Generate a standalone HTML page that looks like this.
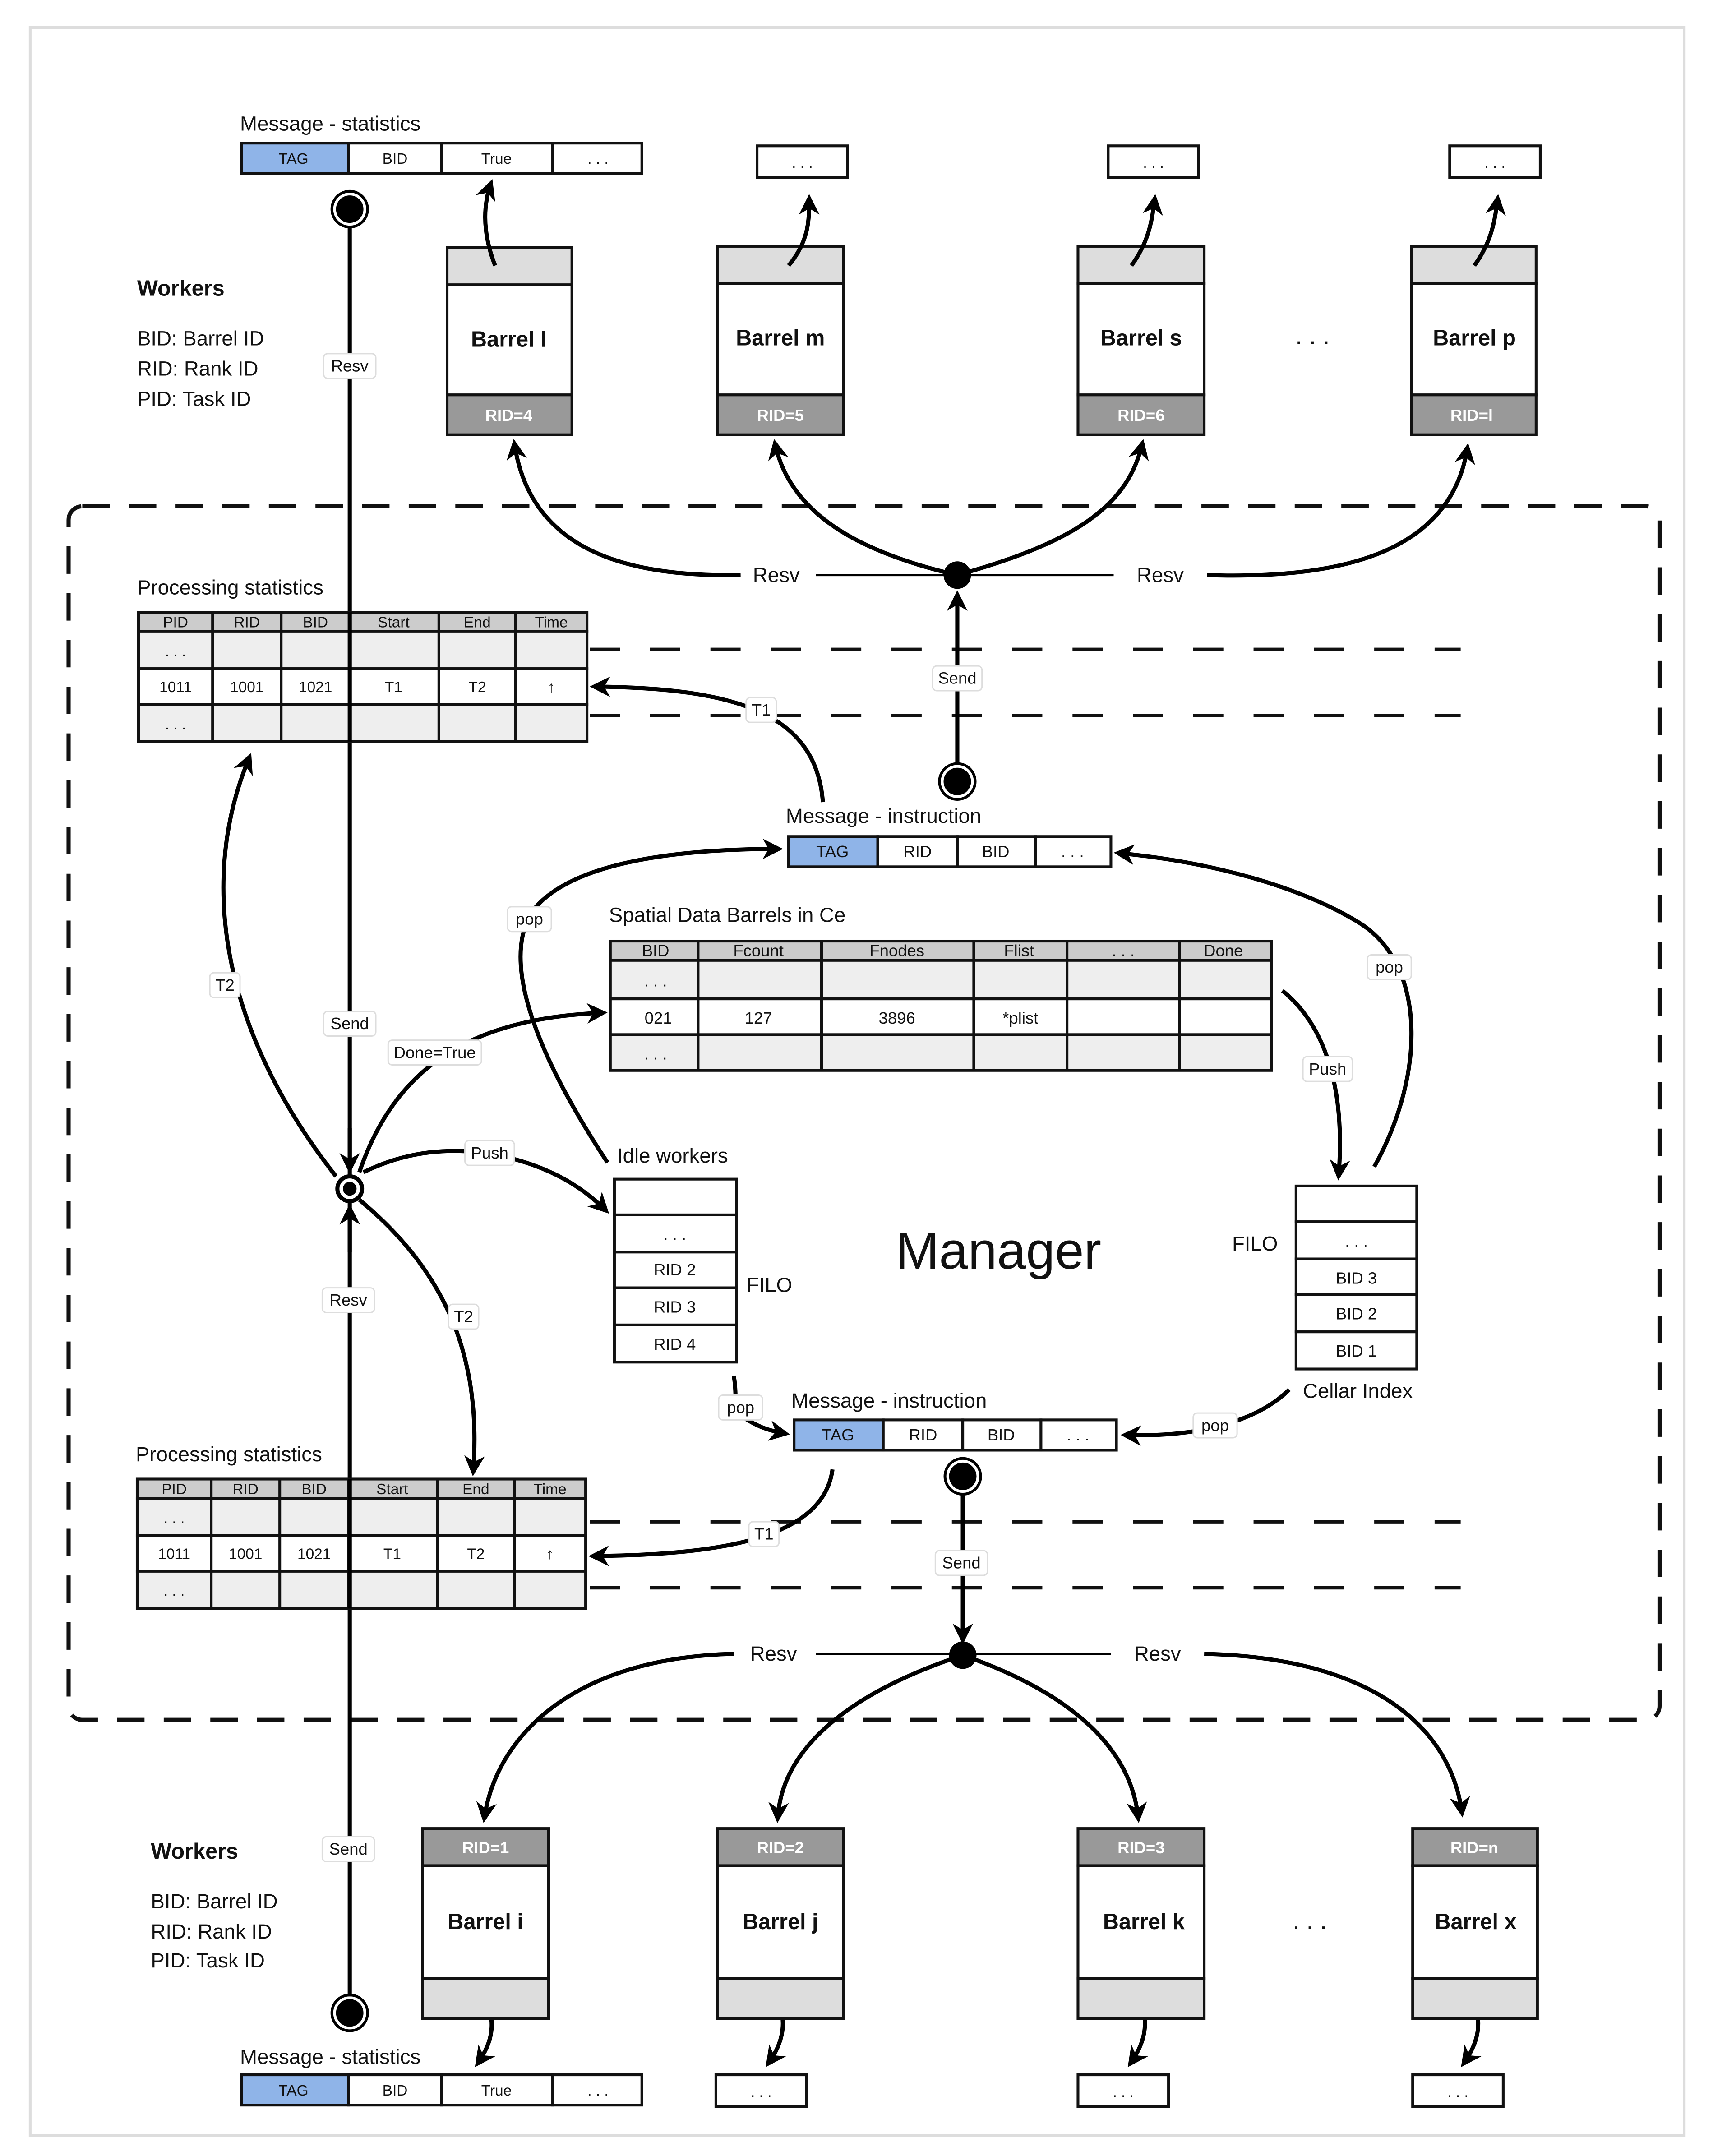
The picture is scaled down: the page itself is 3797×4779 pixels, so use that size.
<!DOCTYPE html>
<html><head><meta charset="utf-8"><style>
html,body{margin:0;padding:0;background:#fff;}
svg{display:block;}
text{font-family:"Liberation Sans",sans-serif;fill:#111;}
</style></head><body>
<svg width="3797" height="4779" viewBox="0 0 1249 1567" preserveAspectRatio="none" xmlns="http://www.w3.org/2000/svg">
<defs>
<marker id="a" viewBox="0 0 10 10" refX="8" refY="5" markerWidth="5" markerHeight="5" orient="auto-start-reverse" markerUnits="strokeWidth"><path d="M0,0 L10,5 L0,10 L3,5 z" fill="#000"/></marker>
</defs>
<rect x="22" y="20" width="1206" height="1532" fill="none" stroke="#ddd" stroke-width="2"/>
<rect x="50" y="368" width="1160" height="882" rx="10" fill="none" stroke="#111" stroke-width="3" stroke-dasharray="20 14"/>

<g stroke="#111" stroke-width="2.5" stroke-dasharray="22 22">
<line x1="430" y1="472" x2="1065" y2="472"/><line x1="430" y1="520" x2="1065" y2="520"/>
<line x1="430" y1="1106" x2="1065" y2="1106"/><line x1="430" y1="1154" x2="1065" y2="1154"/>
</g>

<line x1="255" y1="152" x2="255" y2="1463" stroke="#000" stroke-width="3"/>

<text x="175" y="95" font-size="15">Message - statistics</text>
<g stroke="#111" stroke-width="2">
<rect x="176" y="104" width="78" height="22" fill="#8fb4e8"/>
<rect x="254" y="104" width="68" height="22" fill="#fff"/>
<rect x="322" y="104" width="81" height="22" fill="#fff"/>
<rect x="403" y="104" width="65" height="22" fill="#fff"/>
</g>
<g font-size="11" text-anchor="middle"><text x="214" y="119">TAG</text><text x="288" y="119">BID</text><text x="362" y="119">True</text><text x="436" y="119">. . .</text></g>

<g stroke="#111" stroke-width="2" fill="#fff">
<rect x="552" y="106" width="66" height="23"/><rect x="808" y="106" width="66" height="23"/><rect x="1057" y="106" width="66" height="23"/>
<rect x="522" y="1508" width="66" height="23"/><rect x="786" y="1508" width="66" height="23"/><rect x="1030" y="1508" width="66" height="23"/>
</g>
<g font-size="11" text-anchor="middle"><text x="585" y="122">. . .</text><text x="841" y="122">. . .</text><text x="1090" y="122">. . .</text>
<text x="555" y="1524">. . .</text><text x="819" y="1524">. . .</text><text x="1063" y="1524">. . .</text></g>

<circle cx="255" cy="152" r="11" fill="#000" stroke="#fff" stroke-width="2"/><circle cx="255" cy="152" r="13" fill="none" stroke="#000" stroke-width="2"/>

<text x="100" y="215" font-size="16" font-weight="bold">Workers</text>
<g font-size="15"><text x="100" y="251">BID:  Barrel ID</text><text x="100" y="273">RID:  Rank ID</text><text x="100" y="295">PID:  Task ID</text></g>

<g stroke="#111" stroke-width="2">
<rect x="326" y="180" width="91" height="27" fill="#ddd"/><rect x="326" y="207" width="91" height="80" fill="#fff"/><rect x="326" y="287" width="91" height="29" fill="#999"/>
<rect x="523" y="179" width="92" height="27" fill="#ddd"/><rect x="523" y="206" width="92" height="81" fill="#fff"/><rect x="523" y="287" width="92" height="29" fill="#999"/>
<rect x="786" y="179" width="92" height="27" fill="#ddd"/><rect x="786" y="206" width="92" height="81" fill="#fff"/><rect x="786" y="287" width="92" height="29" fill="#999"/>
<rect x="1029" y="179" width="91" height="27" fill="#ddd"/><rect x="1029" y="206" width="91" height="81" fill="#fff"/><rect x="1029" y="287" width="91" height="29" fill="#999"/>
</g>
<g font-size="16" font-weight="bold" text-anchor="middle"><text x="371" y="252">Barrel l</text><text x="569" y="251">Barrel m</text><text x="832" y="251">Barrel s</text><text x="1075" y="251">Barrel p</text></g>
<g font-size="12" font-weight="bold" text-anchor="middle"><text x="371" y="306" style="fill:#fff">RID=4</text><text x="569" y="306" style="fill:#fff">RID=5</text><text x="832" y="306" style="fill:#fff">RID=6</text><text x="1073" y="306" style="fill:#fff">RID=l</text></g>
<text x="957" y="250" font-size="18" text-anchor="middle">. . .</text>
<g fill="none" stroke="#000" stroke-width="3" marker-end="url(#a)">
<path d="M361,193 C352,170 352,150 358,133"/><path d="M575,193 C590,175 590,160 590,144"/><path d="M825,193 C838,175 840,160 842,144"/><path d="M1075,193 C1088,175 1090,160 1092,144"/>
<path d="M355,1455 C362,1472 358,1486 348,1500"/><path d="M568,1455 C574,1472 570,1486 560,1500"/><path d="M832,1455 C838,1472 834,1486 824,1500"/><path d="M1075,1455 C1081,1472 1077,1486 1067,1500"/>
</g>

<line x1="595" y1="418" x2="812" y2="418" stroke="#000" stroke-width="1.5"/>
<g fill="none" stroke="#000" stroke-width="3" marker-end="url(#a)">
<path d="M540,418 C440,420 385,390 375,322"/><path d="M698,418 C620,400 575,370 565,322"/><path d="M698,418 C780,395 822,370 833,322"/><path d="M880,418 C1000,422 1060,390 1070,325"/>
<path d="M698,568 L698,432"/>
</g>
<circle cx="698" cy="418" r="10" fill="#000"/>
<text x="566" y="423" font-size="15" text-anchor="middle">Resv</text><text x="846" y="423" font-size="15" text-anchor="middle">Resv</text>
<circle cx="698" cy="568" r="11" fill="#000" stroke="#fff" stroke-width="2"/><circle cx="698" cy="568" r="13" fill="none" stroke="#000" stroke-width="2"/>

<g>
<text x="100" y="432" font-size="15">Processing statistics</text>
<g stroke="#111" stroke-width="2">
<rect x="101" y="445" width="327" height="14" fill="#ccc"/>
<rect x="101" y="459" width="327" height="27" fill="#eee"/>
<rect x="101" y="486" width="327" height="26" fill="#fff"/>
<rect x="101" y="512" width="327" height="27" fill="#eee"/>
<path d="M155,445V539M205,445V539M255,445V539M320,445V539M376,445V539"/>
</g>
<g font-size="11" text-anchor="middle"><text x="128" y="456">PID</text><text x="180" y="456">RID</text><text x="230" y="456">BID</text><text x="287" y="456">Start</text><text x="348" y="456">End</text><text x="402" y="456">Time</text>
<text x="128" y="477">. . .</text><text x="128" y="503">1011</text><text x="180" y="503">1001</text><text x="230" y="503">1021</text><text x="287" y="503">T1</text><text x="348" y="503">T2</text><text x="402" y="503">↑</text><text x="128" y="530">. . .</text></g>
</g>
<g transform="translate(-1,630)">
<text x="100" y="432" font-size="15">Processing statistics</text>
<g stroke="#111" stroke-width="2">
<rect x="101" y="445" width="327" height="14" fill="#ccc"/>
<rect x="101" y="459" width="327" height="27" fill="#eee"/>
<rect x="101" y="486" width="327" height="26" fill="#fff"/>
<rect x="101" y="512" width="327" height="27" fill="#eee"/>
<path d="M155,445V539M205,445V539M255,445V539M320,445V539M376,445V539"/>
</g>
<g font-size="11" text-anchor="middle"><text x="128" y="456">PID</text><text x="180" y="456">RID</text><text x="230" y="456">BID</text><text x="287" y="456">Start</text><text x="348" y="456">End</text><text x="402" y="456">Time</text>
<text x="128" y="477">. . .</text><text x="128" y="503">1011</text><text x="180" y="503">1001</text><text x="230" y="503">1021</text><text x="287" y="503">T1</text><text x="348" y="503">T2</text><text x="402" y="503">↑</text><text x="128" y="530">. . .</text></g>
</g>
<line x1="255" y1="445" x2="255" y2="539" stroke="#000" stroke-width="3"/>
<line x1="255" y1="1075" x2="255" y2="1169" stroke="#000" stroke-width="3"/>

<text x="573" y="598" font-size="15">Message - instruction</text>
<g stroke="#111" stroke-width="2">
<rect x="575" y="608" width="65" height="22" fill="#8fb4e8"/><rect x="640" y="608" width="58" height="22" fill="#fff"/><rect x="698" y="608" width="57" height="22" fill="#fff"/><rect x="755" y="608" width="55" height="22" fill="#fff"/>
<rect x="579" y="1032" width="65" height="22" fill="#8fb4e8"/><rect x="644" y="1032" width="58" height="22" fill="#fff"/><rect x="702" y="1032" width="57" height="22" fill="#fff"/><rect x="759" y="1032" width="55" height="22" fill="#fff"/>
</g>
<g font-size="12" text-anchor="middle"><text x="607" y="623">TAG</text><text x="669" y="623">RID</text><text x="726" y="623">BID</text><text x="782" y="623">. . .</text>
<text x="611" y="1047">TAG</text><text x="673" y="1047">RID</text><text x="730" y="1047">BID</text><text x="786" y="1047">. . .</text></g>
<text x="577" y="1023" font-size="15">Message - instruction</text>

<text x="444" y="670" font-size="15">Spatial Data Barrels in Ce</text>
<g stroke="#111" stroke-width="2">
<rect x="445" y="684" width="482" height="14" fill="#ccc"/>
<rect x="445" y="698" width="482" height="28" fill="#eee"/>
<rect x="445" y="726" width="482" height="26" fill="#fff"/>
<rect x="445" y="752" width="482" height="26" fill="#eee"/>
<path d="M509,684V778M599,684V778M710,684V778M778,684V778M860,684V778"/>
</g>
<g font-size="12" text-anchor="middle"><text x="478" y="695">BID</text><text x="553" y="695">Fcount</text><text x="654" y="695">Fnodes</text><text x="743" y="695">Flist</text><text x="819" y="695">. . .</text><text x="892" y="695">Done</text>
<text x="478" y="717">. . .</text><text x="480" y="744">021</text><text x="553" y="744">127</text><text x="654" y="744">3896</text><text x="744" y="744">*plist</text><text x="478" y="770">. . .</text></g>

<text x="450" y="845" font-size="15">Idle workers</text>
<g stroke="#111" stroke-width="2" fill="#fff">
<rect x="448" y="857" width="89" height="26"/><rect x="448" y="883" width="89" height="27"/><rect x="448" y="910" width="89" height="26"/><rect x="448" y="936" width="89" height="27"/><rect x="448" y="963" width="89" height="27"/>
<rect x="945" y="862" width="88" height="26"/><rect x="945" y="888" width="88" height="27"/><rect x="945" y="915" width="88" height="26"/><rect x="945" y="941" width="88" height="27"/><rect x="945" y="968" width="88" height="27"/>
</g>
<g font-size="12" text-anchor="middle"><text x="492" y="901">. . .</text><text x="492" y="927">RID 2</text><text x="492" y="954">RID 3</text><text x="492" y="981">RID 4</text>
<text x="989" y="906">. . .</text><text x="989" y="933">BID 3</text><text x="989" y="959">BID 2</text><text x="989" y="986">BID 1</text></g>
<text x="561" y="939" font-size="15" text-anchor="middle">FILO</text>
<text x="915" y="909" font-size="15" text-anchor="middle">FILO</text>
<text x="990" y="1016" font-size="15" text-anchor="middle">Cellar Index</text>
<text x="728" y="922" font-size="38" text-anchor="middle">Manager</text>

<circle cx="702" cy="1073" r="11" fill="#000" stroke="#fff" stroke-width="2"/><circle cx="702" cy="1073" r="13" fill="none" stroke="#000" stroke-width="2"/>
<line x1="595" y1="1202" x2="810" y2="1202" stroke="#000" stroke-width="1.5"/>
<g fill="none" stroke="#000" stroke-width="3" marker-end="url(#a)">
<path d="M702,1086 L702,1192"/>
<path d="M535,1202 C420,1205 362,1260 353,1322"/><path d="M702,1203 C620,1230 570,1270 567,1322"/><path d="M702,1203 C780,1230 825,1270 830,1322"/><path d="M878,1202 C1000,1205 1058,1255 1066,1318"/>
</g>
<circle cx="702" cy="1203" r="10" fill="#000"/>
<text x="564" y="1207" font-size="15" text-anchor="middle">Resv</text><text x="844" y="1207" font-size="15" text-anchor="middle">Resv</text>

<g stroke="#111" stroke-width="2">
<rect x="308" y="1329" width="92" height="27" fill="#999"/><rect x="308" y="1356" width="92" height="82" fill="#fff"/><rect x="308" y="1438" width="92" height="29" fill="#ddd"/>
<rect x="523" y="1329" width="92" height="27" fill="#999"/><rect x="523" y="1356" width="92" height="82" fill="#fff"/><rect x="523" y="1438" width="92" height="29" fill="#ddd"/>
<rect x="786" y="1329" width="92" height="27" fill="#999"/><rect x="786" y="1356" width="92" height="82" fill="#fff"/><rect x="786" y="1438" width="92" height="29" fill="#ddd"/>
<rect x="1030" y="1329" width="91" height="27" fill="#999"/><rect x="1030" y="1356" width="91" height="82" fill="#fff"/><rect x="1030" y="1438" width="91" height="29" fill="#ddd"/>
</g>
<g font-size="12" font-weight="bold" text-anchor="middle"><text x="354" y="1347" style="fill:#fff">RID=1</text><text x="569" y="1347" style="fill:#fff">RID=2</text><text x="832" y="1347" style="fill:#fff">RID=3</text><text x="1075" y="1347" style="fill:#fff">RID=n</text></g>
<g font-size="16" font-weight="bold" text-anchor="middle"><text x="354" y="1402">Barrel i</text><text x="569" y="1402">Barrel j</text><text x="834" y="1402">Barrel k</text><text x="1076" y="1402">Barrel x</text></g>
<text x="955" y="1402" font-size="18" text-anchor="middle">. . .</text>

<text x="110" y="1351" font-size="16" font-weight="bold">Workers</text>
<g font-size="15"><text x="110" y="1387">BID:  Barrel ID</text><text x="110" y="1409">RID:  Rank ID</text><text x="110" y="1430">PID:  Task ID</text></g>
<circle cx="255" cy="1463" r="11" fill="#000" stroke="#fff" stroke-width="2"/><circle cx="255" cy="1463" r="13" fill="none" stroke="#000" stroke-width="2"/>

<text x="175" y="1500" font-size="15">Message - statistics</text>
<g stroke="#111" stroke-width="2">
<rect x="176" y="1508" width="78" height="22" fill="#8fb4e8"/><rect x="254" y="1508" width="68" height="22" fill="#fff"/><rect x="322" y="1508" width="81" height="22" fill="#fff"/><rect x="403" y="1508" width="65" height="22" fill="#fff"/>
</g>
<g font-size="11" text-anchor="middle"><text x="214" y="1523">TAG</text><text x="288" y="1523">BID</text><text x="362" y="1523">True</text><text x="436" y="1523">. . .</text></g>

<g fill="none" stroke="#000" stroke-width="3" marker-end="url(#a)">
<path d="M255,820 L255,850"/><path d="M255,910 L255,878"/>
<path d="M600,583 C595,520 540,500 433,499"/>
<path d="M607,1068 C600,1120 520,1130 432,1131"/>
<path d="M245,855 C170,760 140,650 182,550"/>
<path d="M262,852 C290,770 350,740 440,736"/>
<path d="M265,852 C300,835 330,835 355,838 C395,845 422,860 442,880"/>
<path d="M262,872 C320,920 352,980 345,1070"/>
<path d="M443,845 C400,780 360,700 390,660 C420,625 500,617 568,617"/>
<path d="M1002,848 C1040,780 1040,700 990,670 C940,640 870,625 815,620"/>
<path d="M935,720 C960,740 982,780 976,855"/>
<path d="M535,1000 C538,1015 533,1025 545,1032 C555,1038 562,1040 573,1042"/>
<path d="M940,1010 C920,1030 880,1045 820,1043"/>
</g>
<circle cx="255" cy="864" r="9" fill="#fff" stroke="#000" stroke-width="3"/><circle cx="255" cy="864" r="5" fill="#000"/>

<g font-size="12" text-anchor="middle">
<g stroke="#ddd" stroke-width="1" fill="#fff">
<rect x="236" y="257" width="38" height="18" rx="3"/>
<rect x="680" y="484" width="36" height="18" rx="3"/>
<rect x="544" y="507" width="22" height="18" rx="3"/>
<rect x="236" y="735" width="38" height="18" rx="3"/>
<rect x="153" y="707" width="22" height="18" rx="3"/>
<rect x="283" y="756" width="68" height="18" rx="3"/>
<rect x="339" y="829" width="36" height="18" rx="3"/>
<rect x="370" y="659" width="32" height="18" rx="3"/>
<rect x="997" y="694" width="32" height="18" rx="3"/>
<rect x="950" y="768" width="36" height="18" rx="3"/>
<rect x="235" y="936" width="38" height="18" rx="3"/>
<rect x="327" y="948" width="22" height="18" rx="3"/>
<rect x="524" y="1014" width="32" height="18" rx="3"/>
<rect x="870" y="1027" width="32" height="18" rx="3"/>
<rect x="682" y="1127" width="38" height="18" rx="3"/>
<rect x="546" y="1106" width="22" height="18" rx="3"/>
<rect x="235" y="1335" width="38" height="18" rx="3"/>
</g>
<text x="255" y="270">Resv</text><text x="698" y="497">Send</text><text x="555" y="520">T1</text><text x="255" y="748">Send</text><text x="164" y="720">T2</text><text x="317" y="769">Done=True</text><text x="357" y="842">Push</text><text x="386" y="672">pop</text><text x="1013" y="707">pop</text><text x="968" y="781">Push</text><text x="254" y="949">Resv</text><text x="338" y="961">T2</text><text x="540" y="1027">pop</text><text x="886" y="1040">pop</text><text x="701" y="1140">Send</text><text x="557" y="1119">T1</text><text x="254" y="1348">Send</text>
</g>
</svg>
</body></html>
